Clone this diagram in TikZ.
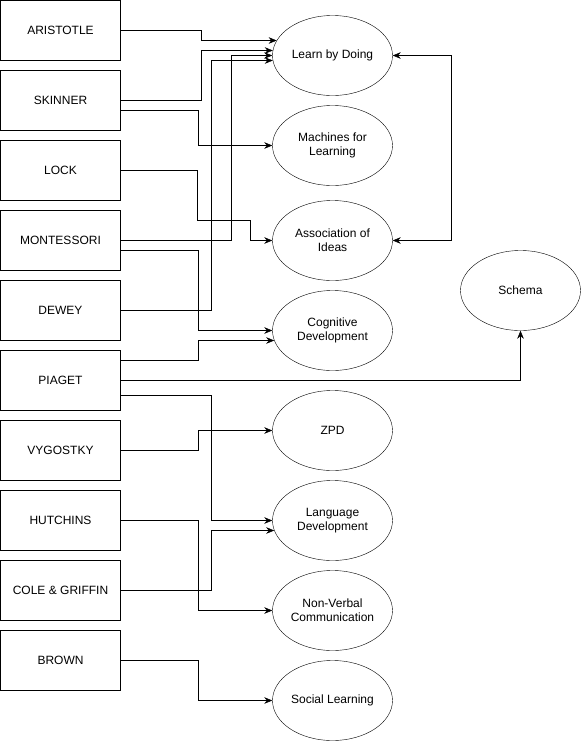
\documentclass[tikz,border=0pt]{standalone}
\usepackage{fontspec}
\setmainfont{Liberation Sans}
\usetikzlibrary{shapes.geometric,arrows.meta,calc}
\begin{document}
\begin{tikzpicture}[x=1pt,y=-1pt,
    every node/.style={font=\fontsize{12}{14}\selectfont},
    thinker/.style={draw, minimum width=120pt, minimum height=60pt, inner sep=0pt},
    idea/.style={draw, ellipse, minimum width=120pt, minimum height=80pt, inner sep=0pt, align=center},
    link/.style={-{Stealth[length=8pt,width=6.5pt]}},
    both/.style={{Stealth[length=8pt,width=6.5pt]}-{Stealth[length=8pt,width=6.5pt]}}]
  \useasboundingbox (-0.5,-0.5) rectangle (581.5,741.5);
  \foreach \n/\t [count=\i from 0] in {ari/ARISTOTLE,ski/SKINNER,lock/LOCK,mont/MONTESSORI,dewey/DEWEY,
      piaget/PIAGET,vyg/VYGOSTKY,hutch/HUTCHINS,cole/COLE \& GRIFFIN,brown/BROWN}
    \node[thinker] (\n) at (60,30+\i*70) {\t};
  \node[idea] (doing) at (332,55) {Learn by Doing};
  \node[idea] (machines) at (332,145) {Machines for\\Learning};
  \node[idea] (assoc) at (332,240) {Association of\\Ideas};
  \node[idea] (cogn) at (332,330) {Cognitive\\Development};
  \node[idea] (zpd) at (332,430) {ZPD};
  \node[idea] (lang) at (332,520) {Language\\Development};
  \node[idea] (nonverbal) at (332,610) {Non-Verbal\\Communication};
  \node[idea] (social) at (332,700) {Social Learning};
  \node[idea] (schema) at (520,290) {Schema};
  \draw[link] (ari.east) -- ++(80,0) |- ($(doing.west)+(4.4,-15)$);
  \draw[link] (ski.east) -- ++(80,0) |- ($(doing.west)+(0.5,-5)$);
  \draw[link] ($(ski.east)+(0,10)$) -- ++(77,0) |- (machines.west);
  \draw[link] (lock.east) -| (197,220) -| (250,240) -- (assoc.west);
  \draw[link] (mont.east) -- ++(110,0) |- (doing.west);
  \draw[link] ($(mont.east)+(0,10)$) -- ++(77,0) |- (cogn.west);
  \draw[link] (dewey.east) -- ++(90,0) |- ($(doing.west)+(0.5,5)$);
  \draw[link] ($(piaget.east)+(0,-20)$) -- ++(77,0) |- ($(cogn.west)+(1.9,10)$);
  \draw[link] (piaget.east) -| (schema.south);
  \draw[link] ($(piaget.east)+(0,15)$) -- ++(90,0) |- (lang.west);
  \draw[link] (vyg.east) -- ++(77,0) |- (zpd.west);
  \draw[link] (hutch.east) -- ++(77,0) |- (nonverbal.west);
  \draw[link] (cole.east) -- ++(90,0) |- ($(lang.west)+(1.9,10)$);
  \draw[link] (brown.east) -- ++(77,0) |- (social.west);
  \draw[both] (doing.east) -- ++(58,0) |- (assoc.east);
\end{tikzpicture}
\end{document}
